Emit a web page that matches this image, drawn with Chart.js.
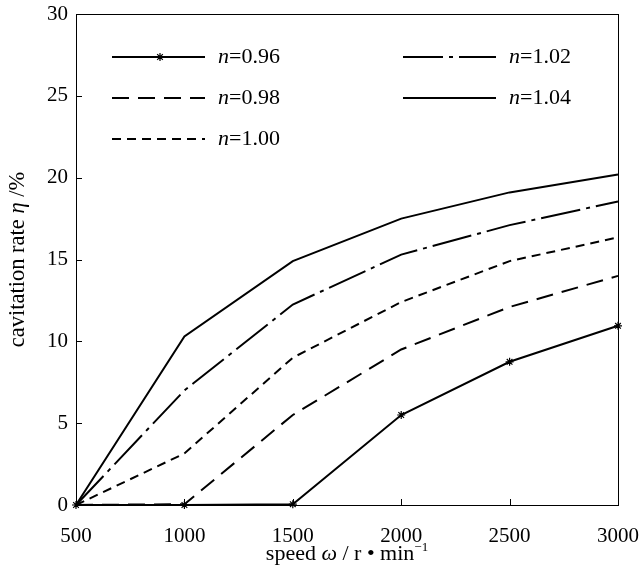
<!DOCTYPE html>
<html lang="en">
<head>
    <meta charset="UTF-8">
    <title>cavitation rate</title>
    <style>
        html, body { margin: 0; background: #fff; overflow: hidden; }
    </style>
</head>
<body>
    <canvas id="chart" width="640" height="575"></canvas>

    <script src="https://cdn.jsdelivr.net/npm/chart.js@4/dist/chart.umd.min.js"></script>
    <script>
        // 转速
        const speeds = [500, 1000, 1500, 2000, 2500, 3000];
        const yTicks = [0, 5, 10, 15, 20, 25, 30];
        const seriesNames = ['0.96', '0.98', '1.00', '1.02', '1.04'];

        const rate096 = [0, 0, 0.05, 5.5, 8.75, 10.95];
        const rate098 = [0, 0.05, 5.5, 9.5, 12.1, 14.0];
        const rate100 = [0, 3.15, 9.0, 12.4, 14.9, 16.35];
        const rate102 = [0, 7.0, 12.25, 15.3, 17.1, 18.55];
        const rate104 = [0, 10.3, 14.9, 17.5, 19.1, 20.2];

        const serif = '"Liberation Serif", "DejaVu Serif", serif';

        function makeDataset(name, data, dash, withStar) {
            return {
                label: name,
                data: data,
                borderColor: '#000',
                backgroundColor: '#000',
                borderWidth: 2,
                borderDash: dash,
                pointStyle: 'star',
                pointRadius: withStar ? 4 : 0,
                pointBorderWidth: 1.2,
                tension: 0,
                clip: 6
            };
        }

        // 混合字体的文字（斜体、上标）
        function drawRuns(ctx, runs, size, cx, cy) {
            const fontOf = r => (r.italic ? 'italic ' : '') + (r.sup ? Math.round(size * 0.6) : size) + 'px ' + serif;
            let total = 0;
            runs.forEach(r => { ctx.font = fontOf(r); r.w = ctx.measureText(r.text).width; total += r.w; });
            let x = cx - total / 2;
            ctx.textAlign = 'left';
            ctx.textBaseline = 'middle';
            runs.forEach(r => {
                ctx.font = fontOf(r);
                ctx.fillText(r.text, x, r.sup ? cy - size * 0.3 : cy);
                x += r.w;
            });
        }

        // 边框、向内刻度、图例、轴标题
        const framePlugin = {
            id: 'frame',
            afterDraw(chart) {
                const ctx = chart.ctx;
                const area = chart.chartArea;
                const xs = chart.scales.x;
                const ys = chart.scales.y;
                ctx.save();
                ctx.strokeStyle = '#000';
                ctx.lineWidth = 1;
                ctx.strokeRect(area.left + 0.5, area.top + 0.5, area.right - area.left, area.bottom - area.top);

                ctx.beginPath();
                speeds.forEach((s, i) => {
                    const px = Math.round(xs.getPixelForValue(i)) + 0.5;
                    ctx.moveTo(px, area.bottom);
                    ctx.lineTo(px, area.bottom - 6);
                });
                yTicks.forEach(v => {
                    const py = Math.round(ys.getPixelForValue(v)) + 0.5;
                    ctx.moveTo(area.left, py);
                    ctx.lineTo(area.left + 6, py);
                });
                ctx.stroke();

                // 图例
                const slots = [
                    [112, 57], [112, 98], [112, 139], [403, 57], [403, 98]
                ];
                chart.data.datasets.forEach((ds, i) => {
                    const [lx, ly] = slots[i];
                    ctx.strokeStyle = '#000';
                    ctx.lineWidth = 2;
                    ctx.setLineDash(ds.borderDash || []);
                    ctx.beginPath();
                    ctx.moveTo(lx, ly);
                    ctx.lineTo(lx + 93, ly);
                    ctx.stroke();
                    ctx.setLineDash([]);
                    if (ds.pointRadius > 0) {
                        ctx.lineWidth = 1.2;
                        Chart.helpers.drawPoint(ctx, { pointStyle: 'star', radius: 4, borderWidth: 1.2 }, lx + 48, ly);
                    }
                    ctx.fillStyle = '#000';
                    ctx.textBaseline = 'middle';
                    ctx.textAlign = 'left';
                    ctx.font = 'italic 22px ' + serif;
                    const tx = lx + 106;
                    ctx.fillText('n', tx, ly);
                    const w = ctx.measureText('n').width;
                    ctx.font = '22px ' + serif;
                    ctx.fillText('=' + ds.label, tx + w, ly);
                });

                // 轴标题
                ctx.fillStyle = '#000';
                drawRuns(ctx, [
                    { text: 'speed ' }, { text: 'ω', italic: true }, { text: ' / r • min' }, { text: '−1', sup: true }
                ], 22, (area.left + area.right) / 2, 554);

                ctx.save();
                ctx.translate(18, (area.top + area.bottom) / 2);
                ctx.rotate(-Math.PI / 2);
                drawRuns(ctx, [
                    { text: 'cavitation rate ' }, { text: 'η', italic: true }, { text: ' /%' }
                ], 22.5, 0, 0);
                ctx.restore();

                ctx.restore();
            }
        };

        const chart = new Chart(document.getElementById('chart'), {
            type: 'line',
            data: {
                labels: speeds.map(String),
                datasets: [
                    makeDataset(seriesNames[0], rate096, [], true),
                    makeDataset(seriesNames[1], rate098, [17, 9], false),
                    makeDataset(seriesNames[2], rate100, [9, 6], false),
                    makeDataset(seriesNames[3], rate102, [40, 6, 4, 6], false),
                    makeDataset(seriesNames[4], rate104, [], false)
                ]
            },
            options: {
                responsive: false,
                animation: false,
                layout: { padding: { top: 14, right: 22, left: 0, bottom: 0 } },
                plugins: {
                    legend: { display: false },
                    tooltip: { enabled: false }
                },
                scales: {
                    x: {
                        type: 'category',
                        offset: false,
                        grid: { display: false, drawTicks: false },
                        border: { display: false },
                        ticks: {
                            color: '#000',
                            padding: 19,
                            maxRotation: 0,
                            font: { family: serif, size: 21 }
                        },
                        afterFit(scale) {
                            scale.height = 70;
                            scale.paddingLeft = 0;
                            scale.paddingRight = 0;
                        }
                    },
                    y: {
                        min: 0,
                        max: 30,
                        grid: { display: false, drawTicks: false },
                        border: { display: false },
                        afterBuildTicks(scale) { scale.ticks = yTicks.map(v => ({ value: v })); },
                        ticks: {
                            color: '#000',
                            padding: 8,
                            font: { family: serif, size: 21 }
                        },
                        afterFit(scale) {
                            scale.width = 76;
                            scale.paddingTop = 0;
                            scale.paddingBottom = 0;
                        }
                    }
                }
            },
            plugins: [framePlugin]
        });
    </script>
</body>
</html>
